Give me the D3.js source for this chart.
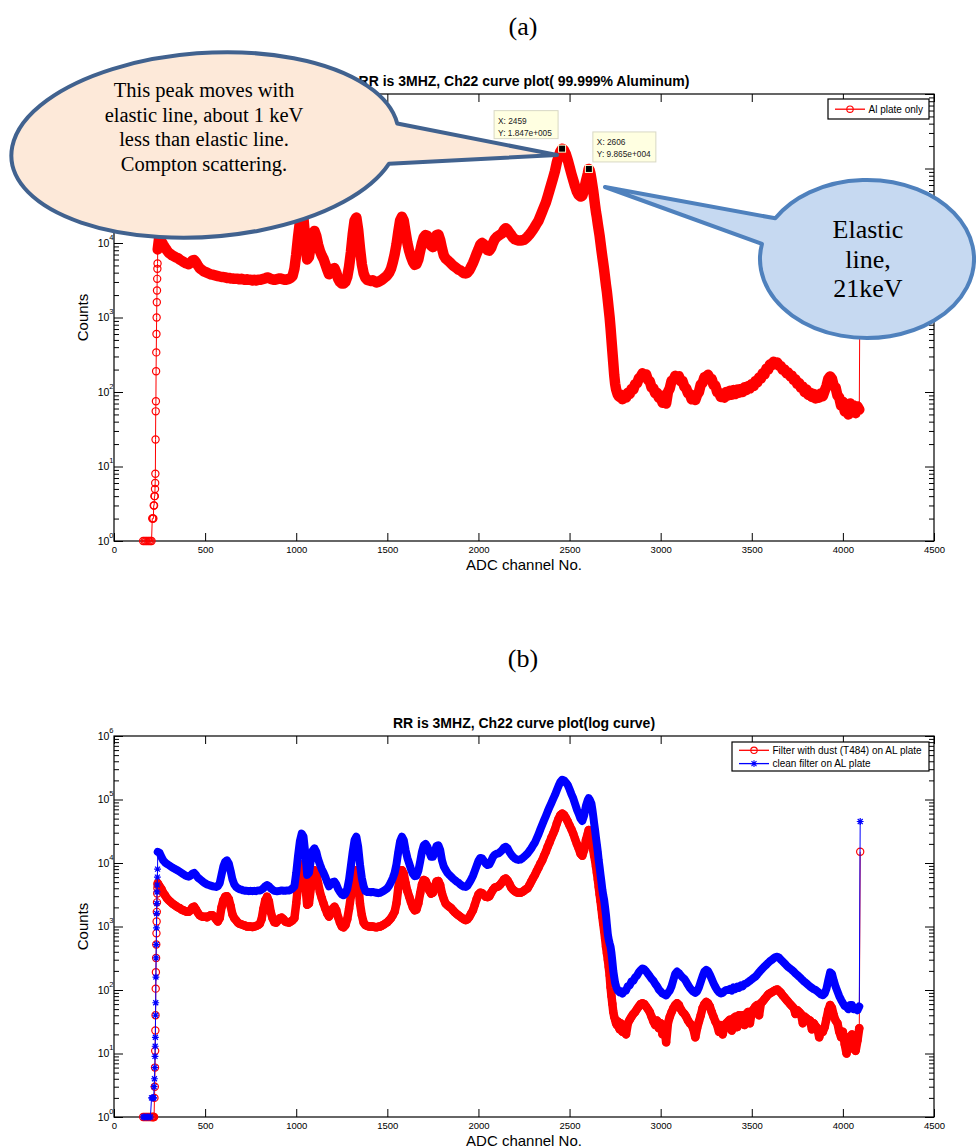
<!DOCTYPE html>
<html>
<head>
<meta charset="utf-8">
<script src="https://cdn.jsdelivr.net/npm/d3@7"></script>
<style>
  body { margin: 0; background: #fff; }
</style>
</head>
<body>
<svg id="fig" width="976" height="1148"></svg>
<script>
// ---------------------------------------------------------------
// ADC spectra, RR = 3 MHz, channel 22
// Channel grid: individual channels on the rising edge, every 10
// channels over the body, every 5 on the falling edge, every 10 on
// the tail, and the last channel (4095).
// ---------------------------------------------------------------
const riseChannels = [160,168,176,184,192,200,206,210,213,216,218,220,222,224,225,226,227,228,229,230,231,232,233,234,235,236,237,238,239];
const bodyChannels = d3.range(240, 2600, 10);   // 240 … 2590
const fallChannels = d3.range(2600, 2780, 5);   // 2600 … 2775
const tailChannels = d3.range(2780, 4100, 10);  // 2780 … 4090
const lastChannel  = [4095];

const xTickValues = [0, 500, 1000, 1500, 2000, 2500, 3000, 3500, 4000, 4500];
const yDecades = [1, 10, 100, 1e3, 1e4, 1e5, 1e6];

// ---- (a) Al plate only ----
const alRise = [1,1,1,1,1,1, 1,2,2,2,3, 3,4,4,5,6, 8,23,55,75,190, 340,600,1000,1600,2300, 3300,4500,5300];
const alBody = [
  8200,13000,10500,9500,8700,8000,7400,7100,6800,6600,        // 240
  6400,6300,6000,5800,5600,5400,5300,5200,5400,5800,          // 340
  5900,5500,5000,4600,4400,4200,4100,4000,3900,3800,          // 440
  3750,3700,3650,3600,3550,3500,3500,3450,3400,3400,          // 540
  3350,3350,3300,3300,3300,3250,3300,3250,3200,3250,          // 640
  3200,3200,3150,3200,3150,3200,3200,3250,3300,3350,          // 740
  3450,3400,3300,3250,3200,3250,3300,3350,3300,3250,          // 840
  3200,3250,3300,3400,3600,4500,7000,12000,19000,24000,       // 940
  21000,11000,6000,6500,9500,13500,14500,12500,9500,7800,     // 1040
  6800,6100,5200,4400,3800,4100,4500,4600,4000,3300,          // 1140
  3000,2850,2850,3000,3500,4800,7500,13000,20000,22000,       // 1240
  15000,8500,5200,3900,3400,3200,3150,3100,3150,3050,         // 1340
  2950,3000,3100,3200,3350,3500,3700,4000,4500,5500,          // 1440
  7000,9500,14000,20000,22500,20000,14000,10000,7800,6500,    // 1540
  5600,5100,5200,6000,7800,10000,12000,12800,12500,11000,     // 1640
  9200,8800,10500,12800,13000,11000,8500,6800,6200,5900,      // 1740
  5600,5300,5000,4800,4600,4400,4300,4100,3950,3900,          // 1840
  4000,4300,4800,5400,6200,7200,8200,9500,10000,9600,         // 1940
  8800,8000,7900,8600,10000,11300,12000,12500,13000,13500,    // 2040
  15000,15800,15000,13800,12800,11800,11200,11000,10800,10800,// 2140
  10900,11000,11500,12200,13000,14000,15200,16600,18300,20000,// 2240
  23000,26500,30500,35000,42000,51000,62000,75000,92000,120000,      // 2340
  145000,170000,184700,175000,155000,130000,105000,85000,70000,58000,// 2440
  49000,44000,42000,43000,52000,68000                          // 2540
];
const alFall = [
  85000,98650,95000,85000,72000,60000,50000,40000,32000,26000,
  22000,18000,15000,12500,10000,8000,6500,5300,4300,3400,
  2700,2200,1700,1300,1000,720,500,350,245,170,
  130,110,100,92,88,86
];
const alTail = [
  92,80,88,84,98,94,110,108,128,130,          // 2780
  152,160,178,170,172,145,140,115,112,96,     // 2880
  98,84,90,72,78,70,100,112,142,145,          // 2980
  165,160,162,140,140,118,112,96,94,80,       // 3080
  86,78,92,100,126,132,158,160,170,152,       // 3180
  150,124,122,100,98,86,94,84,100,90,         // 3280
  104,92,106,94,108,98,110,100,116,106,       // 3380
  120,112,128,120,140,134,156,152,178,172,    // 3480
  205,200,235,228,255,245,248,225,222,198,    // 3580
  200,180,182,164,165,145,148,128,132,114,    // 3680
  118,100,108,92,98,86,94,82,92,84,           // 3780
  96,88,104,120,150,162,150,120,115,90,       // 3880
  84,66,74,55,68,50,70,56,66,52,              // 3980
  64,58                                       // 4080
];
const alLast = [14000];

// data tips on panel (a)
const tipChannels = [2459, 2606];
const tipCounts   = [184700, 98650];

// ---- (b) filter with dust (T484) on AL plate ----
const dustRise = [1,1,1,1,1,1, 1,1,1,1,1, 1,2,3,6,11, 23,40,105,190,320, 520,780,1200,1700,2400, 3300,4000,4500];
const dustBody = [
  4800,4300,3900,3400,3100,2800,2600,2450,2300,2200,          // 240
  2100,2000,1950,1850,1800,1750,1700,1700,1800,2000,          // 340
  2050,1850,1650,1500,1450,1420,1430,1400,1450,1500,          // 440
  1500,1420,1300,1200,1350,2000,2600,2950,3000,2700,          // 540
  2100,1550,1350,1250,1150,1100,1080,1050,1030,1000,          // 640
  1000,1000,980,1000,1020,1050,1100,1300,1900,2600,           // 740
  2950,2500,1700,1350,1170,1150,1250,1350,1380,1300,          // 840
  1200,1170,1150,1200,1250,1350,2300,4500,7500,9500,          // 940
  8000,4500,2200,2300,4000,6500,7700,6800,4800,3500,          // 1040
  2800,2300,1900,1600,1430,1600,1900,2050,1800,1400,          // 1140
  1150,1000,970,1050,1300,1900,3000,5000,7300,7700,           // 1240
  5000,2300,1500,1150,1050,1020,1000,1000,1000,980,           // 1340
  970,990,1000,1030,1070,1120,1170,1250,1350,1500,            // 1440
  1700,2300,4000,6500,7700,6800,4800,3600,2950,2400,          // 1540
  2000,1800,1850,2300,3300,4600,5400,5200,4500,3700,          // 1640
  3300,3400,4200,5100,5200,4500,3300,2700,2300,2150,          // 1740
  2050,1950,1800,1680,1580,1500,1430,1360,1300,1260,          // 1840
  1300,1420,1600,1800,2200,2700,3200,3400,3350,3150,          // 1940
  2950,2900,3000,3400,3800,4100,4200,4300,4600,5000,          // 2040
  5500,5700,5300,4700,4100,3800,3600,3450,3400,3400,          // 2140
  3500,3650,3850,4000,4500,5100,5800,6500,7500,8500,          // 2240
  9800,11000,13000,15000,18000,21000,25000,29000,34000,42000, // 2340
  50000,57000,60000,57000,51000,45000,39000,34000,29000,24000,// 2440
  20000,17000,14000,13000,16000,23000                         // 2540
];
const dustFall = [
  29000,33000,31000,28000,26000,20000,16000,13000,11000,8800,
  7000,5500,4200,3200,2500,1900,1430,1100,850,650,
  480,380,300,230,170,110,80,60,45,38,
  34,30,28,32,26,24
];
const dustTail = [
  30,22,25,20,30,34,38,42,45,50,      // 2780
  55,60,62,60,55,50,45,38,32,28,      // 2880
  33,25,30,20,28,15,30,38,45,52,      // 2980
  58,62,58,50,45,42,38,33,30,28,      // 3080
  24,18,25,32,40,52,60,65,62,55,      // 3180
  45,38,32,28,22,28,20,26,30,32,      // 3280
  34,23,36,38,26,40,38,40,28,42,      // 3380
  45,30,46,50,55,58,40,62,66,72,      // 3480
  78,85,89,92,96,100,102,96,90,82,    // 3580
  76,70,65,60,56,52,42,48,45,42,      // 3680
  30,38,36,34,33,24,30,27,25,18,      // 3780
  23,22,26,35,48,58,52,40,33,30,      // 3880
  22,18,22,14,10,18,12,20,15,11,      // 3980
  16,25                               // 4080
];
const dustLast = [15000];

// ---- (b) clean filter on AL plate ----
const cleanRise = [1,1,1,1,1,1, 2,2,2,2,2, 3,4,6,9,13, 18,40,63,160,320, 520,950,1600,2300,3500, 4500,6000,8000];
const cleanBody = [
  15000,14500,12500,11000,10200,9700,9300,8900,8500,8200,     // 240
  7900,7600,7300,7000,6700,6400,6200,6100,6300,6800,          // 340
  7000,6500,5900,5600,5300,5000,4800,4600,4500,4400,          // 440
  4300,4250,4200,4300,4800,6500,8800,10500,11000,9800,        // 540
  7500,5500,4600,4200,4000,3850,3800,3700,3650,3650,          // 640
  3600,3650,3600,3650,3600,3700,3700,3800,4000,4300,          // 740
  4500,4300,4000,3800,3650,3600,3600,3650,3700,3650,          // 840
  3650,3700,3700,3800,4000,4300,7000,13000,22000,29000,       // 940
  26000,14000,6500,7000,11000,15500,17000,15000,11500,9500,   // 1040
  8000,7000,6000,5000,4300,4600,5000,5100,4600,3900,          // 1140
  3500,3200,3100,3300,3900,5500,9000,15000,23000,26000,       // 1240
  18000,9500,5800,4300,3600,3500,3500,3450,3500,3450,         // 1340
  3400,3350,3400,3500,3650,3800,4000,4400,5000,5800,          // 1440
  7000,9500,15000,22000,26000,23000,16000,12000,9800,8000,    // 1540
  6800,6200,6300,7500,10500,15000,19000,20000,18000,15000,    // 1640
  12500,12500,15000,18500,19000,16000,11000,8800,7800,7000,   // 1740
  6500,6100,5700,5400,5100,4900,4600,4400,4250,4200,          // 1840
  4400,4900,5500,6300,7500,9000,10800,12000,11800,10800,      // 1940
  9800,9300,9500,10800,12500,13500,14000,14200,15000,16000,   // 2040
  17500,18000,17000,15000,13500,12500,11800,11400,11200,11300,// 2140
  11800,12500,13300,14200,15500,17000,19000,21000,24500,28500,// 2240
  34000,40000,47000,55000,65000,76000,88000,102000,118000,140000,        // 2340
  165000,190000,205000,200000,185000,170000,145000,122000,105000,86000,  // 2440
  70000,60000,50000,46000,56000,80000                          // 2540
];
const cleanFall = [
  98000,105000,100000,93000,86000,70000,55000,42000,33000,25000,
  19500,15000,11000,8600,6500,5000,3800,3100,2600,2000,
  1500,1050,750,620,540,480,380,280,200,160,
  130,115,105,98,95,92
];
const cleanTail = [
  96,88,96,98,115,118,136,140,158,168,        // 2780
  190,205,218,212,198,180,165,150,140,125,    // 2880
  115,102,95,88,85,82,90,98,115,145,          // 2980
  180,195,185,170,158,150,135,120,108,100,    // 3080
  94,90,95,110,135,165,195,207,198,175,       // 3180
  150,128,112,100,92,88,90,96,100,100,        // 3280
  104,98,110,104,113,108,118,114,124,127,     // 3380
  133,140,147,155,162,175,190,205,220,235,    // 3480
  250,268,285,298,315,330,335,322,300,280,    // 3580
  262,245,230,218,207,195,182,172,162,152,    // 3680
  142,134,127,120,113,108,103,100,95,90,      // 3780
  85,83,88,105,143,190,180,140,113,95,        // 3880
  80,70,62,56,54,50,58,58,50,52,              // 3980
  48,55                                       // 4080
];
const cleanLast = [45000];

// ---------------------------------------------------------------
const FONT = '"Liberation Sans", Arial, Helvetica, sans-serif';
const SERIF = '"Liberation Serif", "Times New Roman", serif';
const RED = "#ff0000", BLUE = "#0000ff";
const STAR = "M-3.4,0H3.4M0,-3.4V3.4M-2.5,-2.5L2.5,2.5M-2.5,2.5L2.5,-2.5";

function zip(ch, v) { return ch.slice(0, v.length).map((c, i) => [c, v[i]]); }
function buildSeries(rise, body, fall, tail, last) {
  return [].concat(zip(riseChannels, rise), zip(bodyChannels, body),
                   zip(fallChannels, fall), zip(tailChannels, tail), zip(lastChannel, last));
}

const alSeries    = buildSeries(alRise, alBody, alFall, alTail, alLast);
const dustSeries  = buildSeries(dustRise, dustBody, dustFall, dustTail, dustLast);
const cleanSeries = buildSeries(cleanRise, cleanBody, cleanFall, cleanTail, cleanLast);

const svg = d3.select("#fig");
svg.append("rect").attr("width", 976).attr("height", 1148).attr("fill", "#fff");

const x = d3.scaleLinear().domain([0, 4500]).range([114, 934]);

const minorTicks = [];
for (let k = 0; k < 6; k++) for (let m = 2; m <= 9; m++) minorTicks.push(m * Math.pow(10, k));

function drawMarker(g, px, py, color, marker) {
  if (marker === "o") {
    g.append("circle").attr("cx", px).attr("cy", py).attr("r", 3.2)
      .attr("fill", "none").attr("stroke", color).attr("stroke-width", 1.1);
  } else {
    g.append("path").attr("transform", `translate(${px},${py})`).attr("d", STAR)
      .attr("fill", "none").attr("stroke", color).attr("stroke-width", 1.1);
  }
}

// Every channel carries a marker, so the densely sampled part of a
// spectrum reads as a solid band: drawn as a wide stroke under the markers.
function drawSeries(g, pts, y, s) {
  const grp = g.append("g");
  const line = d3.line().x(d => x(d[0])).y(d => y(d[1]));
  grp.append("path").datum(pts).attr("d", line)
    .attr("fill", "none").attr("stroke", s.color).attr("stroke-width", 1);
  const dense = pts.slice(riseChannels.length, pts.length - 1);
  grp.append("path").datum(dense).attr("d", line)
    .attr("fill", "none").attr("stroke", s.color).attr("stroke-width", s.band)
    .attr("stroke-linejoin", "round").attr("stroke-linecap", "round");
  if (s.marker === "o") {
    grp.selectAll("circle").data(pts).join("circle")
      .attr("cx", d => x(d[0])).attr("cy", d => y(d[1])).attr("r", 3.6)
      .attr("fill", "none").attr("stroke", s.color).attr("stroke-width", 1.2);
  } else {
    grp.selectAll("path.m").data(pts).join("path").attr("class", "m")
      .attr("transform", d => `translate(${x(d[0])},${y(d[1])})`).attr("d", STAR)
      .attr("fill", "none").attr("stroke", s.color).attr("stroke-width", 1.2);
  }
}

function styleAxis(gAx) {
  gAx.select(".domain").remove();
  gAx.selectAll("line").attr("stroke", "#000").attr("stroke-width", 1);
  gAx.selectAll("text").attr("font-family", FONT).attr("font-size", 9.5).attr("fill", "#000");
}

function panel(opt) {
  const top = opt.top, bottom = opt.bottom;
  const y = d3.scaleLog().domain([1, 1e6]).range([bottom, top]);
  const g = svg.append("g");

  // x axis (bottom, labelled) and top ticks
  styleAxis(g.append("g").attr("transform", `translate(0,${bottom})`)
    .call(d3.axisBottom(x).tickValues(xTickValues).tickFormat(d3.format("d"))
      .tickSizeInner(-8).tickSizeOuter(0).tickPadding(5)));
  styleAxis(g.append("g").attr("transform", `translate(0,${top})`)
    .call(d3.axisTop(x).tickValues(xTickValues).tickFormat(() => "")
      .tickSizeInner(-8).tickSizeOuter(0)));

  // y axis, log decades and minor ticks, both sides
  [[d3.axisLeft, 114], [d3.axisRight, 934]].forEach(([ax, pos]) => {
    styleAxis(g.append("g").attr("transform", `translate(${pos},0)`)
      .call(ax(y).tickValues(yDecades).tickFormat(() => "").tickSizeInner(-9).tickSizeOuter(0)));
    styleAxis(g.append("g").attr("transform", `translate(${pos},0)`)
      .call(ax(y).tickValues(minorTicks).tickFormat(() => "").tickSizeInner(-5).tickSizeOuter(0)));
  });

  // decade labels 10^n
  yDecades.forEach(v => {
    const t = g.append("text").attr("x", 113.5).attr("y", y(v) + 3.5)
      .attr("text-anchor", "end").attr("font-family", FONT).attr("font-size", 10.5).attr("fill", "#000");
    t.append("tspan").text("10");
    t.append("tspan").attr("dy", -7).attr("font-size", 7.5).text(String(Math.round(Math.log10(v))));
  });

  // box
  g.append("rect").attr("x", 114).attr("y", top).attr("width", 820).attr("height", bottom - top)
    .attr("fill", "none").attr("stroke", "#000").attr("stroke-width", 1.2);

  // series
  opt.series.forEach(s => drawSeries(g, s.data, y, s));

  // labels
  g.append("text").attr("x", 524).attr("y", opt.titleY).attr("text-anchor", "middle")
    .attr("font-family", FONT).attr("font-weight", "bold").attr("font-size", 14).text(opt.title);
  g.append("text").attr("x", 524).attr("y", bottom + 29).attr("text-anchor", "middle")
    .attr("font-family", FONT).attr("font-size", 15).text("ADC channel No.");
  g.append("text").attr("transform", `translate(88,${(top + bottom) / 2}) rotate(-90)`)
    .attr("text-anchor", "middle").attr("font-family", FONT).attr("font-size", 15).text("Counts");

  // legend
  const L = opt.legend;
  g.append("rect").attr("x", L.x).attr("y", L.y).attr("width", L.w).attr("height", L.h)
    .attr("fill", "#fff").attr("stroke", "#000").attr("stroke-width", 1.2);
  opt.series.forEach((s, i) => {
    const ly = L.y + L.row0 + i * 13.3;
    g.append("line").attr("x1", L.x + 7).attr("x2", L.x + 37).attr("y1", ly).attr("y2", ly)
      .attr("stroke", s.color).attr("stroke-width", 1.3);
    drawMarker(g, L.x + 22, ly, s.color, s.marker);
    g.append("text").attr("x", L.x + 40.5).attr("y", ly + 3.6).attr("font-family", FONT)
      .attr("font-size", 10).attr("fill", "#000").text(s.name);
  });

  return { g, y };
}

// panel labels
svg.append("text").attr("x", 523).attr("y", 34.5).attr("text-anchor", "middle")
  .attr("font-family", SERIF).attr("font-size", 26).text("(a)");
svg.append("text").attr("x", 523).attr("y", 667).attr("text-anchor", "middle")
  .attr("font-family", SERIF).attr("font-size", 26).text("(b)");

const pa = panel({
  top: 94, bottom: 541, titleY: 85.5,
  title: "RR is 3MHZ, Ch22 curve plot( 99.999% Aluminum)",
  series: [{ data: alSeries, color: RED, marker: "o", band: 10.5, name: "Al plate only" }],
  legend: { x: 828, y: 99, w: 101, h: 20, row0: 10.2 }
});

panel({
  top: 736, bottom: 1117, titleY: 728,
  title: "RR is 3MHZ, Ch22 curve plot(log curve)",
  series: [
    { data: dustSeries,  color: RED,  marker: "o", band: 8.5, name: "Filter with dust (T484) on AL plate" },
    { data: cleanSeries, color: BLUE, marker: "*", band: 8,   name: "clean filter on AL plate" }
  ],
  legend: { x: 732, y: 742, w: 197, h: 29, row0: 8.3 }
});

// data tips on panel (a)
function sci(v) {
  const [m, e] = v.toExponential(3).split("e");
  const sign = e[0] === "-" ? "-" : "+";
  return m + "e" + sign + String(Math.abs(+e)).padStart(3, "0");
}
const tipBoxes = [{ dx: -68, dy: -38, w: 64, h: 28 }, { dx: 4, dy: -37, w: 63, h: 30 }];
tipChannels.forEach((c, i) => {
  const mx = x(c), my = pa.y(tipCounts[i]), b = tipBoxes[i];
  const bx = mx + b.dx, by = my + b.dy;
  svg.append("rect").attr("x", bx).attr("y", by).attr("width", b.w).attr("height", b.h)
    .attr("fill", "#ffffe1").attr("stroke", "#d8d8c4").attr("stroke-width", 1);
  svg.append("text").attr("x", bx + 4).attr("y", by + 13.5).attr("font-family", FONT)
    .attr("font-size", 8.3).attr("fill", "#222").text("X: " + c);
  svg.append("text").attr("x", bx + 4).attr("y", by + 25).attr("font-family", FONT)
    .attr("font-size", 8.3).attr("fill", "#222").text("Y: " + sci(tipCounts[i]));
  svg.append("rect").attr("x", mx - 3.5).attr("y", my - 3.5).attr("width", 7).attr("height", 7)
    .attr("fill", "#000").attr("stroke", "#fffbd0").attr("stroke-width", 1);
});

// speech-bubble annotations
function callout(c) {
  const r = c.rot * Math.PI / 180, cr = Math.cos(r), sr = Math.sin(r);
  const P = t => {
    const a = t * Math.PI / 180;
    return [c.cx + c.rx * Math.cos(a) * cr - c.ry * Math.sin(a) * sr,
            c.cy + c.rx * Math.cos(a) * sr + c.ry * Math.sin(a) * cr];
  };
  const a1 = P(c.t1), a2 = P(c.t2);
  const d = `M${a1[0]},${a1[1]}A${c.rx},${c.ry} ${c.rot} 1 ${c.sweep} ${a2[0]},${a2[1]}L${c.tip[0]},${c.tip[1]}Z`;
  svg.append("path").attr("d", d).attr("fill", c.fill).attr("stroke", c.stroke)
    .attr("stroke-width", 4).attr("stroke-linejoin", "round");
  c.lines.forEach((s, i) => {
    svg.append("text").attr("x", c.textX).attr("y", c.textY + i * c.lead).attr("text-anchor", "middle")
      .attr("font-family", SERIF).attr("font-size", c.size).attr("fill", "#000").text(s);
  });
}

callout({
  cx: 205, cy: 145, rx: 194, ry: 92, rot: -4, t1: -5, t2: 20, sweep: 0, tip: [557, 155],
  fill: "#fde9d9", stroke: "#41628f",
  lines: ["This peak moves with", "elastic line, about 1 keV", "less than elastic line.", "Compton scattering."],
  textX: 204, textY: 97, lead: 24.5, size: 20.5
});
callout({
  cx: 867, cy: 259, rx: 107, ry: 79, rot: 0, t1: 211, t2: 191, sweep: 1, tip: [605, 187],
  fill: "#c6d9f1", stroke: "#4f81bd",
  lines: ["Elastic", "line,", "21keV"],
  textX: 868, textY: 238, lead: 29.5, size: 26
});
</script>
</body>
</html>
